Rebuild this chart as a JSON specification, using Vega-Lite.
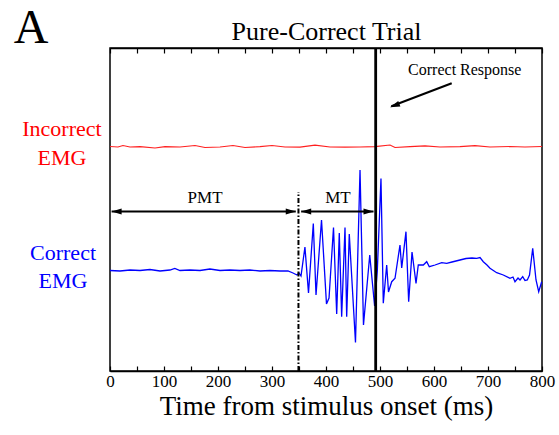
{
  "$schema": "https://vega.github.io/schema/vega-lite/v6.json",
  "width": 432,
  "height": 323,
  "autosize": {"type": "none"},
  "padding": {"left": 110, "top": 48, "right": 17, "bottom": 64},
  "background": "white",
  "config": {
    "font": "Liberation Serif",
    "view": {"stroke": "black", "strokeWidth": 1.5}
  },
  "datasets": {
    "correct": [
      {"ms": 0, "v": 100.5}, {"ms": 18.5, "v": 100}, {"ms": 37, "v": 101}, {"ms": 55.6, "v": 100.5}, {"ms": 74, "v": 101.5},
      {"ms": 92.6, "v": 100}, {"ms": 111, "v": 101}, {"ms": 120, "v": 102.5}, {"ms": 129.6, "v": 100.5}, {"ms": 148, "v": 101},
      {"ms": 166.7, "v": 100.5}, {"ms": 185, "v": 102}, {"ms": 203.7, "v": 100.5}, {"ms": 222, "v": 101}, {"ms": 240.7, "v": 100.5},
      {"ms": 259, "v": 101}, {"ms": 277.8, "v": 100}, {"ms": 296.3, "v": 100.5}, {"ms": 314.8, "v": 100}, {"ms": 329.6, "v": 100},
      {"ms": 338.9, "v": 98}, {"ms": 346.3, "v": 96}, {"ms": 350, "v": 98}, {"ms": 353.7, "v": 95}, {"ms": 361, "v": 124},
      {"ms": 367.6, "v": 78}, {"ms": 376.5, "v": 147.5}, {"ms": 381.5, "v": 76}, {"ms": 391.7, "v": 151}, {"ms": 400.9, "v": 67},
      {"ms": 405.6, "v": 73}, {"ms": 413.9, "v": 143.5}, {"ms": 419.8, "v": 57}, {"ms": 424.6, "v": 138}, {"ms": 429, "v": 54.3},
      {"ms": 435.2, "v": 143.5}, {"ms": 438.3, "v": 54.3}, {"ms": 443.1, "v": 137}, {"ms": 454.6, "v": 28.5}, {"ms": 463, "v": 201},
      {"ms": 469.4, "v": 46}, {"ms": 481, "v": 116}, {"ms": 490, "v": 65}, {"ms": 495, "v": 100}, {"ms": 501.8, "v": 192.5},
      {"ms": 506.1, "v": 67.7}, {"ms": 512.4, "v": 106}, {"ms": 515.7, "v": 79}, {"ms": 521.7, "v": 89.3}, {"ms": 527.8, "v": 92.7},
      {"ms": 537, "v": 126}, {"ms": 540.2, "v": 103}, {"ms": 548.1, "v": 139.3}, {"ms": 553.1, "v": 69.3}, {"ms": 559.3, "v": 119},
      {"ms": 566.7, "v": 87.7}, {"ms": 570.9, "v": 106}, {"ms": 580.2, "v": 106}, {"ms": 586.5, "v": 109.3}, {"ms": 591.3, "v": 104.3},
      {"ms": 601.9, "v": 106}, {"ms": 614.3, "v": 108.3}, {"ms": 623.5, "v": 107.7}, {"ms": 633.3, "v": 109}, {"ms": 648.1, "v": 111},
      {"ms": 659.3, "v": 112.5}, {"ms": 670.4, "v": 113}, {"ms": 679.1, "v": 112.7}, {"ms": 685.2, "v": 113.5}, {"ms": 691.3, "v": 109.3},
      {"ms": 698.1, "v": 106}, {"ms": 703.7, "v": 102.7}, {"ms": 716.1, "v": 98.3}, {"ms": 728.3, "v": 96}, {"ms": 740.7, "v": 92.7},
      {"ms": 746.3, "v": 94}, {"ms": 750, "v": 89.3}, {"ms": 755.6, "v": 93}, {"ms": 759.3, "v": 91}, {"ms": 764.3, "v": 94.3},
      {"ms": 768.5, "v": 90.5}, {"ms": 772.8, "v": 91}, {"ms": 776.9, "v": 96}, {"ms": 782.8, "v": 122.7}, {"ms": 788.9, "v": 91},
      {"ms": 793.9, "v": 79.3}, {"ms": 799.4, "v": 89.3}
    ],
    "incorrect": [
      {"ms": 0, "v": 224.5}, {"ms": 14.8, "v": 224}, {"ms": 24, "v": 225.5}, {"ms": 37, "v": 224}, {"ms": 55.6, "v": 224.3},
      {"ms": 83.3, "v": 223}, {"ms": 101.9, "v": 224.3}, {"ms": 129.6, "v": 224}, {"ms": 157.4, "v": 225.5}, {"ms": 175.9, "v": 223.5},
      {"ms": 203.7, "v": 224}, {"ms": 227.8, "v": 225.5}, {"ms": 250, "v": 223.5}, {"ms": 277.8, "v": 224.3}, {"ms": 300, "v": 225.5},
      {"ms": 324.1, "v": 224}, {"ms": 351.9, "v": 223.8}, {"ms": 379.6, "v": 225.8}, {"ms": 407.4, "v": 224}, {"ms": 435.2, "v": 223.8},
      {"ms": 463, "v": 224}, {"ms": 490.7, "v": 224.3}, {"ms": 518.5, "v": 226}, {"ms": 527.8, "v": 223.5}, {"ms": 555.6, "v": 224.3},
      {"ms": 583.3, "v": 225.2}, {"ms": 611.1, "v": 224}, {"ms": 648.1, "v": 224.3}, {"ms": 675.9, "v": 225.3}, {"ms": 703.7, "v": 224},
      {"ms": 740.7, "v": 224.5}, {"ms": 768.5, "v": 224}, {"ms": 800, "v": 224.5}
    ],
    "markers": [
      {"kind": "EMG onset", "ms": 349, "v": 0, "v2": 179},
      {"kind": "Correct response", "ms": 492, "v": 0, "v2": 323}
    ],
    "segments": [
      {"name": "PMT", "ms": 3, "v": 159.5, "ms2": 344, "v2": 159.5},
      {"name": "MT", "ms": 354, "v": 159.5, "ms2": 488, "v2": 159.5},
      {"name": "Correct Response", "ms": 632.8, "v": 287.7, "ms2": 521, "v2": 264.7}
    ],
    "heads": [
      {"ms": 3, "v": 159.5, "dir": 270},
      {"ms": 344, "v": 159.5, "dir": 90},
      {"ms": 354, "v": 159.5, "dir": 270},
      {"ms": 488, "v": 159.5, "dir": 90},
      {"ms": 518.5, "v": 263.7, "dir": 249}
    ],
    "notes": [
      {"text": "PMT", "ms": 176, "v": 167.7, "size": "mid"},
      {"text": "MT", "ms": 422, "v": 167.7, "size": "mid"},
      {"text": "Correct Response", "ms": 657, "v": 296, "size": "small"}
    ]
  },
  "resolve": {"axis": {"x": "independent"}},
  "layer": [
    {
      "data": {"name": "correct"},
      "mark": {"type": "line", "color": "#0000ff", "strokeWidth": 1.3},
      "encoding": {
        "x": {"field": "ms", "type": "quantitative", "scale": {"domain": [0, 800], "nice": false, "zero": false},
          "axis": {"orient": "bottom", "values": [0, 50, 100, 150, 200, 250, 300, 350, 400, 450, 500, 550, 600, 650, 700, 750, 800],
            "labelExpr": "datum.value % 100 === 0 ? datum.label : ''", "grid": false, "domainColor": "black", "domainWidth": 1.5,
            "tickColor": "black", "tickSize": -5, "tickWidth": 1.2, "labelPadding": 7, "labelFontSize": 17, "labelColor": "black",
            "labelFont": "Liberation Serif", "labelFlush": false,
            "title": "Time from stimulus onset (ms)", "titleFontSize": 27, "titleFontWeight": "normal", "titleColor": "black",
            "titleFont": "Liberation Serif", "titlePadding": 4}},
        "y": {"field": "v", "type": "quantitative", "scale": {"domain": [0, 323], "nice": false, "zero": false}, "axis": null}
      }
    },
    {
      "data": {"name": "incorrect"},
      "mark": {"type": "line", "color": "#ff2020", "strokeWidth": 1.2},
      "encoding": {
        "x": {"field": "ms", "type": "quantitative", "scale": {"domain": [0, 800], "nice": false, "zero": false},
          "axis": {"orient": "top", "values": [0, 50, 100, 150, 200, 250, 300, 350, 400, 450, 500, 550, 600, 650, 700, 750, 800],
            "labels": false, "grid": false, "domainColor": "black", "domainWidth": 1.5, "tickColor": "black", "tickSize": -5,
            "tickWidth": 1.2, "title": null}},
        "y": {"field": "v", "type": "quantitative", "scale": {"domain": [0, 323], "nice": false, "zero": false}, "axis": null}
      }
    },
    {
      "data": {"name": "markers"},
      "transform": [{"filter": "datum.kind === 'EMG onset'"}],
      "mark": {"type": "rule", "color": "black", "strokeWidth": 2, "strokeDash": [5, 2, 1.5, 2]},
      "encoding": {
        "x": {"field": "ms", "type": "quantitative", "axis": null},
        "y": {"field": "v", "type": "quantitative", "axis": null},
        "y2": {"field": "v2"}
      }
    },
    {
      "data": {"name": "markers"},
      "transform": [{"filter": "datum.kind === 'Correct response'"}],
      "mark": {"type": "rule", "color": "black", "strokeWidth": 2.8},
      "encoding": {
        "x": {"field": "ms", "type": "quantitative", "axis": null},
        "y": {"field": "v", "type": "quantitative", "axis": null},
        "y2": {"field": "v2"}
      }
    },
    {
      "data": {"name": "segments"},
      "mark": {"type": "rule", "color": "black", "strokeWidth": 2.2},
      "encoding": {
        "x": {"field": "ms", "type": "quantitative", "axis": null},
        "x2": {"field": "ms2"},
        "y": {"field": "v", "type": "quantitative", "axis": null},
        "y2": {"field": "v2"}
      }
    },
    {
      "data": {"name": "heads"},
      "mark": {"type": "point", "shape": "M0,0L0.6,2L-0.6,2Z", "filled": true, "color": "black", "opacity": 1, "size": 100, "strokeWidth": 0},
      "encoding": {
        "x": {"field": "ms", "type": "quantitative", "axis": null},
        "y": {"field": "v", "type": "quantitative", "axis": null},
        "angle": {"field": "dir", "type": "quantitative", "scale": null}
      }
    },
    {
      "data": {"name": "notes"},
      "transform": [{"filter": "datum.size === 'mid'"}],
      "mark": {"type": "text", "fontSize": 17, "color": "black", "align": "center", "baseline": "alphabetic"},
      "encoding": {
        "x": {"field": "ms", "type": "quantitative", "axis": null},
        "y": {"field": "v", "type": "quantitative", "axis": null},
        "text": {"field": "text"}
      }
    },
    {
      "data": {"name": "notes"},
      "transform": [{"filter": "datum.size === 'small'"}],
      "mark": {"type": "text", "fontSize": 16, "color": "black", "align": "center", "baseline": "alphabetic"},
      "encoding": {
        "x": {"field": "ms", "type": "quantitative", "axis": null},
        "y": {"field": "v", "type": "quantitative", "axis": null},
        "text": {"field": "text"}
      }
    },
    {
      "data": {"values": [{"text": "Pure-Correct Trial", "ms": 401, "v": 331.5}]},
      "mark": {"type": "text", "fontSize": 26, "color": "black", "align": "center", "baseline": "alphabetic"},
      "encoding": {
        "x": {"field": "ms", "type": "quantitative", "axis": null},
        "y": {"field": "v", "type": "quantitative", "axis": null},
        "text": {"field": "text"}
      }
    },
    {
      "data": {"values": [{"text": "Incorrect\nEMG", "ms": -89, "v": 235}]},
      "mark": {"type": "text", "fontSize": 22, "color": "#ff0000", "align": "center", "baseline": "alphabetic", "lineBreak": "\n", "lineHeight": 29},
      "encoding": {
        "x": {"field": "ms", "type": "quantitative", "axis": null},
        "y": {"field": "v", "type": "quantitative", "axis": null},
        "text": {"field": "text"}
      }
    },
    {
      "data": {"values": [{"text": "Correct\nEMG", "ms": -87, "v": 111}]},
      "mark": {"type": "text", "fontSize": 22, "color": "#0000ff", "align": "center", "baseline": "alphabetic", "lineBreak": "\n", "lineHeight": 28},
      "encoding": {
        "x": {"field": "ms", "type": "quantitative", "axis": null},
        "y": {"field": "v", "type": "quantitative", "axis": null},
        "text": {"field": "text"}
      }
    },
    {
      "data": {"values": [{"text": "A", "ms": -146, "v": 328.5}]},
      "mark": {"type": "text", "fontSize": 48, "color": "black", "align": "center", "baseline": "alphabetic"},
      "encoding": {
        "x": {"field": "ms", "type": "quantitative", "axis": null},
        "y": {"field": "v", "type": "quantitative", "axis": null},
        "text": {"field": "text"}
      }
    }
  ]
}
